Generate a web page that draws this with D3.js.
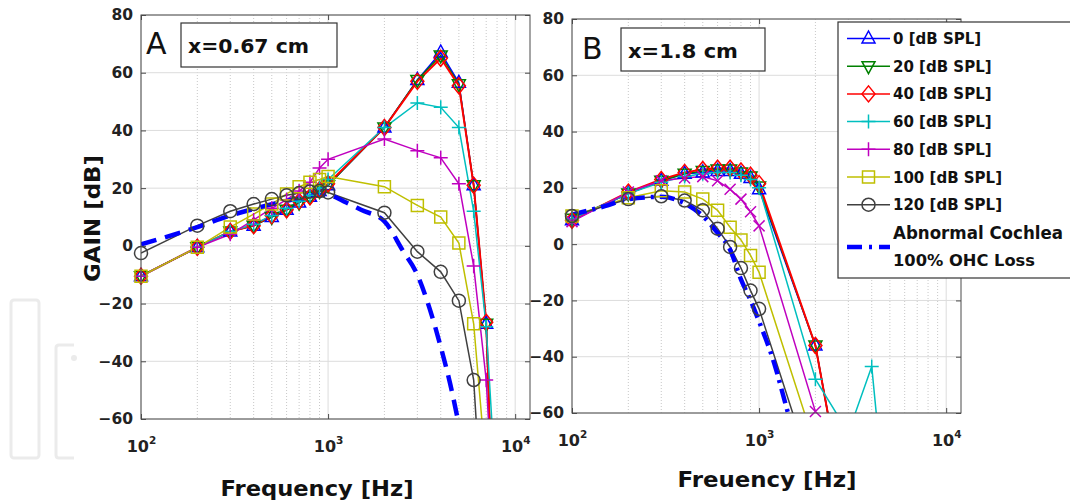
<!DOCTYPE html>
<html>
<head>
<meta charset="utf-8">
<style>
	body { margin: 0; background: #fff; }
	svg { display: block; }
</style>
</head>
<body>
<svg width="1070" height="504"></svg>
<script src="https://d3js.org/d3.v7.min.js"></script>
<script>

	// sound levels, colours (old MATLAB line order) and markers
	var levels = ["0", "20", "40", "60", "80", "100", "120"];
	var colors = ["#0000ff", "#008000", "#ff0000", "#00bfbf", "#bf00bf", "#bfbf00", "#404040"];
	var markersA = ["triUp", "triDown", "diamond", "plus", "plus", "square", "circle"];
	var markersB = ["triUp", "triDown", "diamond", "plus", "cross", "square", "circle"];

	// panel A, x = 0.67 cm
	var freqA = [100, 200, 300, 400, 500, 600, 700, 800, 900, 1000, 2000, 3000, 4000, 5000, 6000, 7000, 8000];
	var gainA0 = [-10.5, -0.5, 5, 7, 10, 12.5, 15, 17, 19, 21, 41, 57.5, 67, 56.5, 21, -27, -135];
	var gainA20 = [-10.5, -0.5, 5, 7, 10, 12.5, 15, 17, 19, 21, 41, 57.5, 66, 56, 21, -27, -135];
	var gainA40 = [-10.5, -0.5, 5, 7, 10.5, 12.5, 15.5, 17, 19.5, 21.5, 41, 57, 65, 55.5, 21, -26.5, -135];
	var gainA60 = [-10.5, -0.5, 5, 7.5, 10.5, 13, 15.5, 17.5, 20, 23, 41, 49.5, 48, 41, 12, -28, -91];
	var gainA80 = [-10.5, -0.5, 4, 9, 13, 16, 19, 22, 27, 30, 37, 33, 30.5, 21.5, -7, -46.5, -113];
	var gainA100 = [-10.5, -0.5, 6.5, 11, 14.5, 18, 20.5, 22, 23, 24, 20.5, 14, 10, 1, -27, -78, null];
	var gainA120 = [-2.5, 7, 12, 14.5, 16.2, 17.5, 18.3, 18.8, 19, 18.5, 11.5, -2, -9, -19, -46.5, -117, null];
	var lossFreqA = [100, 200, 300, 400, 500, 600, 700, 800, 900, 1000, 1250, 1500, 2000, 2500, 3000, 3500, 4000, 4500, 5000];
	var lossGainA = [0.5, 6.5, 10.5, 12.8, 14.4, 15.6, 16.5, 17.2, 17.6, 17.6, 15, 12.5, 8.5, -1.5, -10, -22, -35, -48, -62];

	// panel B, x = 1.8 cm
	var freqB = [100, 200, 300, 400, 500, 600, 700, 800, 900, 1000, 2000, 3000, 4000, 5000];
	var gainB0 = [8.5, 18, 22.5, 25, 25.5, 26, 26, 25, 23.5, 19.5, -36, -100, null, null];
	var gainB20 = [9, 18, 22.5, 25, 26, 26.5, 26.5, 25.5, 24, 20.5, -36, -100, null, null];
	var gainB40 = [8.5, 18.5, 23, 25.5, 26.5, 27, 27, 26, 24.5, 21.5, -36, -100, null, null];
	var gainB60 = [9, 18, 22, 24, 25, 25.5, 25.5, 24.5, 23, 20, -48, -67, -43.5, -110];
	var gainB80 = [8, 18.5, 22.5, 23.5, 24, 22.5, 19.5, 16, 11.5, 6.5, -59.5, null, null, null];
	var gainB100 = [10, 16.5, 19, 18.5, 16, 12, 6, 1.5, -4, -10, -72, null, null, null];
	var gainB120 = [10, 16, 17, 15.5, 12, 5.5, -1, -8.5, -16.5, -23, -85, null, null, null];
	var lossFreqB = [100, 150, 200, 300, 400, 500, 600, 700, 800, 900, 1000, 1200, 1400, 1600];
	var lossGainB = [10.5, 13.5, 16, 16.8, 14.5, 10, 4, -2, -12.5, -20, -27.5, -42, -58, -72];

	var yTicks = [-60, -40, -20, 0, 20, 40, 60, 80];
	var xTicks = [100, 1000, 10000];

	var svg = d3.select("svg");
	svg.append("rect").attr("width", "100%").attr("height", "100%").attr("fill", "#ffffff");

	// faint publisher watermark on the left
	svg.append("rect").attr("x", 11).attr("y", 300).attr("width", 28).attr("height", 158).attr("rx", 3)
		.attr("fill", "none").attr("stroke", "#ebebeb").attr("stroke-width", 3);
	svg.append("path").attr("d", "M74,345 H59 Q56,345 56,348 V455 Q56,458 59,458 H74")
		.attr("fill", "none").attr("stroke", "#ebebeb").attr("stroke-width", 3);
	svg.append("circle").attr("cx", 74).attr("cy", 358).attr("r", 3).attr("fill", "#ebebeb");

	function markerPath(type){
		switch(type){
			case "triUp": return "M0,-7.5L6.5,4.5L-6.5,4.5Z";
			case "triDown": return "M0,7.5L6.5,-4.5L-6.5,-4.5Z";
			case "diamond": return "M0,-8L6.5,0L0,8L-6.5,0Z";
			case "plus": return "M-7,0H7M0,-7V7";
			case "cross": return "M-5.5,-5.5L5.5,5.5M-5.5,5.5L5.5,-5.5";
			case "square": return "M-6,-6H6V6H-6Z";
			default: return "M6.5,0A6.5,6.5 0 1,1 -6.5,0A6.5,6.5 0 1,1 6.5,0Z";
		}
	}

	function boldText(sel, size){
		return sel.attr("font-family", "DejaVu Sans").attr("font-weight", "bold")
			.attr("font-size", size).attr("fill", "#111");
	}

	var panels = [
		{name: "A", x0: 141, x1: 530, y0: 15, y1: 419, freq: freqA,
			gains: [gainA0, gainA20, gainA40, gainA60, gainA80, gainA100, gainA120], markers: markersA,
			lossF: lossFreqA, lossG: lossGainA, lossDash: "16,9",
			tag: "x=0.67 cm", tagW: 121, tagBox: [181, 23, 156, 44], letterX: 146,
			title: "Frequency [Hz]", titleW: 193, titleX: 317, titleY: 496},
		{name: "B", x0: 572, x1: 961, y0: 19, y1: 413, freq: freqB,
			gains: [gainB0, gainB20, gainB40, gainB60, gainB80, gainB100, gainB120], markers: markersB,
			lossF: lossFreqB, lossG: lossGainB, lossDash: "15,6,3,6",
			tag: "x=1.8 cm", tagW: 110, tagBox: [621, 28, 144, 43], letterX: 582,
			title: "Freuency [Hz]", titleW: 179, titleX: 767, titleY: 487}
	];

	panels.forEach(function(p){
		var x = d3.scaleLog().domain([100, 12000]).range([p.x0, p.x1]);
		var y = d3.scaleLinear().domain([-60, 80]).range([p.y1, p.y0]);
		var g = svg.append("g");

		svg.append("clipPath").attr("id", "clip" + p.name)
			.append("rect").attr("x", p.x0).attr("y", p.y0).attr("width", p.x1 - p.x0).attr("height", p.y1 - p.y0);

		// grid
		var minor = [];
		[100, 1000, 10000].forEach(function(d){ for(var k = 2; k < 10; ++ k) if(d * k <= 12000) minor.push(d * k); });
		g.selectAll(".minor").data(minor).enter().append("line")
			.attr("x1", function(d){ return x(d); }).attr("x2", function(d){ return x(d); })
			.attr("y1", p.y0).attr("y2", p.y1)
			.attr("stroke", "#c8c8c8").attr("stroke-width", 1).attr("stroke-dasharray", "1,2");
		g.selectAll(".vmajor").data(xTicks).enter().append("line")
			.attr("x1", function(d){ return x(d); }).attr("x2", function(d){ return x(d); })
			.attr("y1", p.y0).attr("y2", p.y1)
			.attr("stroke", "#dcdcdc").attr("stroke-width", 1);
		g.selectAll(".hmajor").data(yTicks).enter().append("line")
			.attr("x1", p.x0).attr("x2", p.x1)
			.attr("y1", function(d){ return y(d); }).attr("y2", function(d){ return y(d); })
			.attr("stroke", "#dcdcdc").attr("stroke-width", 1);

		// curves
		var plot = g.append("g").attr("clip-path", "url(#clip" + p.name + ")");
		p.gains.forEach(function(vals, i){
			var pts = p.freq.map(function(f, k){ return [f, vals[k]]; });
			plot.append("path")
				.datum(pts)
				.attr("fill", "none")
				.attr("stroke", colors[i])
				.attr("stroke-width", i == 2 ? 2 : 1.5)
				.attr("d", d3.line().defined(function(d){ return d[1] != null; })
					.x(function(d){ return x(d[0]); }).y(function(d){ return y(d[1]); }));
		});

		var loss = p.lossF.map(function(f, k){ return [f, p.lossG[k]]; });
		plot.append("path")
			.datum(loss)
			.attr("fill", "none")
			.attr("stroke", "#0000ff")
			.attr("stroke-width", 4.5)
			.attr("stroke-dasharray", p.lossDash)
			.attr("d", d3.line().curve(d3.curveMonotoneX)
				.x(function(d){ return x(d[0]); }).y(function(d){ return y(d[1]); }));

		// markers, only those inside the y range
		p.gains.forEach(function(vals, i){
			var pts = p.freq.map(function(f, k){ return [f, vals[k]]; })
				.filter(function(d){ return d[1] != null && d[1] >= -60 && d[1] <= 80; });
			g.selectAll(null).data(pts).enter().append("path")
				.attr("transform", function(d){ return "translate(" + x(d[0]) + "," + y(d[1]) + ")"; })
				.attr("d", markerPath(p.markers[i]))
				.attr("fill", "none")
				.attr("stroke", colors[i])
				.attr("stroke-width", 1.5);
		});

		// axes box and ticks
		g.append("rect").attr("x", p.x0).attr("y", p.y0).attr("width", p.x1 - p.x0).attr("height", p.y1 - p.y0)
			.attr("fill", "none").attr("stroke", "#4a4a4a").attr("stroke-width", 1);

		var ya = g.append("g").attr("transform", "translate(" + p.x0 + ",0)")
			.call(d3.axisLeft(y).tickValues(yTicks).tickSize(-5).tickPadding(8));
		ya.select(".domain").remove();
		ya.selectAll("line").attr("stroke", "#4a4a4a");
		boldText(ya.selectAll("text"), 15.5).attr("fill", "#222");

		var yr = g.append("g").attr("transform", "translate(" + p.x1 + ",0)")
			.call(d3.axisRight(y).tickValues(yTicks).tickSize(-5).tickFormat(""));
		yr.select(".domain").remove();
		yr.selectAll("line").attr("stroke", "#4a4a4a");

		var xa = g.append("g").attr("transform", "translate(0," + p.y1 + ")")
			.call(d3.axisBottom(x).tickValues(xTicks).tickSize(-5).tickPadding(22));
		xa.select(".domain").remove();
		xa.selectAll("line").attr("stroke", "#4a4a4a");
		boldText(xa.selectAll("text"), 16).attr("fill", "#222")
			.each(function(d){
				var t = d3.select(this).text("10");
				t.append("tspan").attr("dy", -8).attr("font-size", 10.5).text(Math.round(Math.log10(d)));
			});

		var xt = g.append("g").attr("transform", "translate(0," + p.y0 + ")")
			.call(d3.axisTop(x).tickValues(xTicks).tickSize(-5).tickFormat(""));
		xt.select(".domain").remove();
		xt.selectAll("line").attr("stroke", "#4a4a4a");

		// panel letter and position box
		g.append("text").attr("x", p.letterX).attr("y", p.tagBox[1] + 31)
			.attr("font-family", "DejaVu Sans").attr("font-size", 30).attr("fill", "#111").text(p.name);
		g.append("rect").attr("x", p.tagBox[0]).attr("y", p.tagBox[1]).attr("width", p.tagBox[2]).attr("height", p.tagBox[3])
			.attr("fill", "#fff").attr("stroke", "#333").attr("stroke-width", 1.2);
		boldText(g.append("text"), 20).attr("x", p.tagBox[0] + 7).attr("y", p.tagBox[1] + 30)
			.attr("textLength", p.tagW).attr("lengthAdjust", "spacingAndGlyphs")
			.text(p.tag);

		// x title
		boldText(g.append("text"), 22).attr("x", p.titleX - p.titleW / 2).attr("y", p.titleY)
			.attr("textLength", p.titleW).attr("lengthAdjust", "spacingAndGlyphs")
			.text(p.title);
	});

	// y title (panel A only)
	boldText(svg.append("text"), 22).attr("transform", "translate(100,282) rotate(-90)")
		.attr("textLength", 127).attr("lengthAdjust", "spacingAndGlyphs")
		.text("GAIN [dB]");

	// legend
	var lg = svg.append("g");
	lg.append("rect").attr("x", 838).attr("y", 22).attr("width", 240).attr("height", 256)
		.attr("fill", "#fff").attr("stroke", "#333").attr("stroke-width", 1.2);
	levels.forEach(function(lv, i){
		var cy = 38.5 + i * 27.7;
		lg.append("line").attr("x1", 847).attr("x2", 890).attr("y1", cy).attr("y2", cy)
			.attr("stroke", colors[i]).attr("stroke-width", 1.5);
		lg.append("path").attr("transform", "translate(868.5," + cy + ")").attr("d", markerPath(markersA[i]))
			.attr("fill", "none").attr("stroke", colors[i]).attr("stroke-width", 1.5);
		boldText(lg.append("text"), 15).attr("x", 893).attr("y", cy + 5.5)
			.text(lv + " [dB SPL]");
	});
	lg.append("line").attr("x1", 847).attr("x2", 890).attr("y1", 247).attr("y2", 247)
		.attr("stroke", "#0000ff").attr("stroke-width", 4.5).attr("stroke-dasharray", "15,7,3,7");
	boldText(lg.append("text"), 17).attr("x", 893).attr("y", 239)
		.attr("textLength", 170).attr("lengthAdjust", "spacingAndGlyphs")
		.text("Abnormal Cochlea");
	boldText(lg.append("text"), 16).attr("x", 893).attr("y", 266)
		.attr("textLength", 142).attr("lengthAdjust", "spacingAndGlyphs")
		.text("100% OHC Loss");
</script>
</body>
</html>
